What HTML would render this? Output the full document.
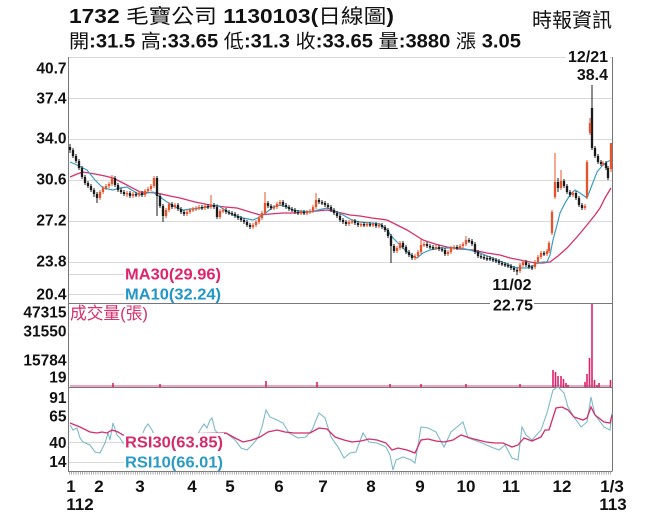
<!DOCTYPE html>
<html>
<head>
<meta charset="utf-8">
<style>
html,body{margin:0;padding:0;background:#fff;}
svg{display:block;}
text{font-family:"Liberation Sans","Noto Sans CJK TC",sans-serif;}
.b{font-weight:bold;}
.ax{font-weight:bold;font-size:15.5px;fill:#111;}
.xl{font-weight:bold;font-size:17px;fill:#111;}
</style>
</head>
<body>
<svg width="656" height="525" viewBox="0 0 656 525" xmlns="http://www.w3.org/2000/svg">
<rect width="656" height="525" fill="#fff"/>

<!-- Header -->
<text x="69" y="23" font-size="20" textLength="325" lengthAdjust="spacingAndGlyphs" fill="#111"><tspan font-weight="bold">1732</tspan><tspan>  毛寶公司 </tspan><tspan font-weight="bold">1130103(</tspan><tspan>日線圖</tspan><tspan font-weight="bold">)</tspan></text>
<text x="69" y="47.5" font-size="19" textLength="452" lengthAdjust="spacingAndGlyphs" fill="#111"><tspan>開</tspan><tspan font-weight="bold">:31.5 </tspan><tspan>高</tspan><tspan font-weight="bold">:33.65 </tspan><tspan>低</tspan><tspan font-weight="bold">:31.3 </tspan><tspan>收</tspan><tspan font-weight="bold">:33.65 </tspan><tspan>量</tspan><tspan font-weight="bold">:3880 </tspan><tspan>漲 </tspan><tspan font-weight="bold">3.05</tspan></text>
<text x="532" y="27" font-size="20" textLength="80" lengthAdjust="spacingAndGlyphs" fill="#111">時報資訊</text>

<!-- gridlines -->
<g stroke="#d9d9d9" stroke-width="1">
<path d="M68 57.5H612M68 98.5H612M68 139.5H612M68 180.5H612M68 221.5H612M68 262.5H612"/>
<path d="M68 274.5H124M68 294.5H124M68 442.5H124M68 462.5H124"/>
</g>

<!-- frame -->
<g stroke="#777" stroke-width="1" fill="none">
<path d="M68.5 57V471"/>
<path d="M612.5 57V471"/>
<path d="M68 303.5H612.5M68 387.5H612.5M68 471.5H612.5"/>
</g>
<path d="M69 473H612" stroke="#999" stroke-width="3" stroke-dasharray="0.8 1.4"/>

<!-- MA lines -->
<polyline fill="none" stroke="#d8306a" stroke-width="1.3" points="70,177 77,174 83,172 95,174 105,176 113,178 125,184 140,192 157,193 170,196 180,198 195,202 210,205 225,207 237,208 250,212 260,215 270,214 283,213 293,213 305,212 317,211 327,210 337,212 350,215 360,216 372,218 387,220 397,225 407,230 415,235 423,240 435,244 447,247 460,249 473,250 487,253 500,255 510,258 520,260 530,262 537,263 543,263 550,262 558,256 567,248 577,237 587,225 595,215 600,208 605,198 611,188"/>
<polyline fill="none" stroke="#3a9ec4" stroke-width="1.2" points="70,162 77,165 87,170 95,180 103,188 113,190 120,188 127,187 135,192 140,195 147,193 153,192 160,197 167,202 175,207 183,210 192,209 200,208 208,207 217,205 225,210 233,215 243,218 253,220 260,217 267,212 273,207 280,205 287,207 293,210 300,211 310,212 318,210 327,208 335,211 343,215 352,220 360,222 370,223 380,224 387,230 393,238 398,243 405,250 412,256 417,258 423,253 430,250 440,248 450,248 460,248 470,250 480,253 490,257 497,260 505,263 513,267 520,268 527,268 533,266 537,263 543,262 547,262 550,255 553,240 557,225 560,213 565,203 570,195 575,190 580,193 587,198 592,185 597,172 602,166 607,162 611,160"/>

<!-- candles -->
<path fill="none" stroke="#1a1a1a" stroke-width="1" d="M70 144V153M73 148V158M76 154V163M79 159V170M82 166V179M85 175V185M88 181V188M91 184V192M94 188V197M97 192V203M115 176V187M118 183V192M121 188V194M124 190V196M130 191V198M136 192V197M142 191V197M157 176V216M160 194V208M163 204V222M172 202V209M178 203V211M181 207V214M184 210V216M202 205V210M208 204V209M214 203V209M217 205V219M226 208V214M229 210V215M232 211V216M235 212V218M238 214V220M241 216V222M244 218V224M247 220V227M250 223V229M268 201V208M271 204V210M283 200V207M286 203V209M289 205V211M292 207V212M295 208V214M298 210V215M304 210V215M319 198V204M322 200V205M325 201V207M328 203V209M331 205V212M334 208V215M337 211V218M340 214V222M343 218V224M346 220V226M355 219V225M358 221V227M364 222V227M370 222V227M376 222V228M382 223V229M385 225V232M388 228V238M391 234V263M394 244V253M403 241V249M406 245V254M409 250V257M412 253V260M427 242V248M430 244V249M433 245V250M439 245V251M442 247V252M445 248V256M457 245V250M469 238V243M472 239V246M475 242V254M478 250V258M481 254V259M484 255V260M487 256V261M490 256V261M493 257V262M496 258V263M499 259V265M502 261V266M505 262V267M508 263V268M511 264V270M514 266V272M517 268V275M526 260V267M529 263V269M532 265V270M544 251V256M558 178V192M564 179V188M567 184V194M570 190V197M576 191V200M579 196V207M582 203V210M592 85V150M595 146V158M598 154V164M601 160V166M606 161V170M608 166V180"/>
<path fill="none" stroke="#1a1a1a" stroke-width="2.3" d="M70 147V150M73 150V156M76 156V161M79 161V168M82 168V177M85 177V183M88 183V186M91 186V190M94 190V194M97 194V198M115 178V185M118 185V190M121 190V192M124 192V194M130 193V196M136 194V195.5M142 193V195M157 178V196M160 196V206M163 206V216M172 204V207M178 205V209M181 209V212M184 212V214M202 207V208.5M208 206V207.5M214 205V207M217 207V217M226 210V212M229 212V213.5M232 213V214.5M235 214V216M238 216V218M241 218V220M244 220V222M247 222V225M250 225V227M268 203V206M271 206V208M283 202V205M286 205V207M289 207V209M292 209V210.5M295 210V212M298 212V213.5M304 212V213.5M319 200V202M322 202V203.5M325 203V205M328 205V207M331 207V210M334 210V213M337 213V216M340 216V220M343 220V222M346 222V224M355 221V223M358 223V225M364 224V225.5M370 224V225.5M376 224V226M382 225V227M385 227V230M388 230V236M391 236V246M394 246V251M403 243V247M406 247V252M409 252V255M412 255V258M427 244V246M430 246V247.5M433 247V248.5M439 247V249M442 249V250.5M445 250V254M457 247V248.5M469 240V241.5M472 241V244M475 244V252M478 252V256M481 256V257.5M484 257V258.5M487 258V259.5M490 258V259.5M493 259V260.5M496 260V261.5M499 261V263M502 263V264.5M505 264V265.5M508 265V266.5M511 266V268M514 268V270M517 270V271.5M526 262V265M529 265V267M532 267V268.5M544 253V254.5M558 182V188M564 181V186M567 186V192M570 192V195M576 193V198M579 198V205M582 205V208M592 108V148M595 148V156M598 156V162M601 162V164M606 163V168M608 168V178"/>
<path fill="none" stroke="#e8532b" stroke-width="1" d="M100 190V200M103 186V194M106 184V190M109 182V188M112 175V186M127 191V197M133 192V198M139 191V197M145 189V197M148 187V193M151 184V191M154 176V188M166 208V218M169 202V212M175 203V209M187 210V216M190 208V214M193 207V212M196 206V211M199 205V210M205 204V210M211 195V209M220 209V219M223 208V213M253 223V229M256 220V227M259 216V224M262 211V220M265 192V215M274 205V210M277 202V209M280 200V206M301 210V215M307 210V215M310 209V214M313 205V213M316 193V209M349 220V226M352 219V224M361 222V227M367 222V227M373 222V227M379 223V228M397 246V253M400 241V250M415 254V260M418 250V258M421 238V254M424 242V247M436 245V250M448 250V256M451 246V254M454 245V250M460 244V250M463 242V248M466 236V246M520 263V273M523 260V267M535 260V269M538 255V264M541 251V259M547 249V256M549 241V253M552 210V235M555 153V199M561 170V190M573 191V197M585 204V210M587 160V199M590 118V135M603 161V166M611 143V172"/>
<path fill="none" stroke="#e8532b" stroke-width="2.3" d="M100 192V198M103 188V192M106 186V188M109 184V186M112 178V184M127 193V194.5M133 194V196M139 193V195M145 191V195M148 189V191M151 186V189M154 178V186M166 210V216M169 204V210M175 205V207M187 212V214M190 210V212M193 209V210.5M196 208V209.5M199 207V208.5M205 206V208M211 205V207M220 211V217M223 210V211.5M253 225V227M256 222V225M259 218V222M262 213V218M265 203V213M274 207V208.5M277 204V207M280 202V204M301 212V213.5M307 212V213.5M310 211V212.5M313 207V211M316 200V207M349 222V224M352 221V222.5M361 224V225.5M367 224V225.5M373 224V225.5M379 225V226.5M397 248V251M400 243V248M415 256V258M418 252V256M421 245V252M424 244V245.5M436 247V248.5M448 252V254M451 248V252M454 247V248.5M460 246V248M463 244V246M466 240V244M520 265V271M523 262V265M535 262V267M538 257V262M541 253V257M547 251V254M549 243V251M552 212V233M555 182V197M561 181V188M573 193V195M585 206V208M587 162V197M590 123V133M603 163V164.5M611 143V169"/>

<!-- price axis labels -->
<g class="ax" text-anchor="end">
<text x="66.5" y="73.5">40.7</text>
<text x="66.5" y="103.5">37.4</text>
<text x="66.5" y="143.5">34.0</text>
<text x="66.5" y="184.5">30.6</text>
<text x="66.5" y="225.5">27.2</text>
<text x="66.5" y="266.5">23.8</text>
<text x="66.5" y="299.5">20.4</text>
</g>

<!-- MA legends -->
<text x="125" y="279.5" class="b" font-size="16" fill="#e0246c" textLength="96" lengthAdjust="spacingAndGlyphs">MA30(29.96)</text>
<text x="125" y="299.5" class="b" font-size="16" fill="#2196c8" textLength="96" lengthAdjust="spacingAndGlyphs">MA10(32.24)</text>

<!-- annotations -->
<rect x="566" y="48" width="44" height="35" fill="#fff"/>
<path d="M592 85V108" stroke="#1a1a1a" stroke-width="1"/>
<text x="608" y="62" class="b" font-size="16" fill="#111" text-anchor="end">12/21</text>
<text x="608" y="80" class="b" font-size="16" fill="#111" text-anchor="end">38.4</text>
<text x="512" y="290" class="b" font-size="16" fill="#111" text-anchor="middle">11/02</text>
<rect x="490" y="298" width="44" height="15" fill="#fff"/>
<text x="533" y="310.5" class="b" font-size="16" fill="#111" text-anchor="end">22.75</text>

<!-- volume -->
<g class="ax" text-anchor="end" font-size="16">
<text x="66.5" y="317.5">47315</text>
<text x="66.5" y="336.5">31550</text>
<text x="66.5" y="365.5">15784</text>
<text x="66.5" y="382.5">19</text>
</g>
<text x="70" y="319" font-size="17" fill="#d6306f" textLength="78" lengthAdjust="spacingAndGlyphs">成交量(張)</text>
<path d="M70 386H611" stroke="#e04a7c" stroke-width="1"/>
<path fill="none" stroke="#e0206a" stroke-width="1.6" d="M113 387V383M160 387V384M266 387V381M317 387V382M390 387V384M421 387V384M466 387V384M520 387V384M553 387V370M555.5 387V372M558 387V376M561 387V376M563.5 387V379M566 387V383M568 387V385M585 387V382M587 387V374M589.5 387V358M592 387V304M594.5 387V380M597 387V385M599 387V383M610.5 387V380"/>

<!-- RSI -->
<g class="ax" text-anchor="end" font-size="16">
<text x="66.5" y="403">91</text>
<text x="66.5" y="421.5">65</text>
<text x="66.5" y="448">40</text>
<text x="66.5" y="467">14</text>
</g>
<polyline fill="none" stroke="#7db9cc" stroke-width="1.1" points="70,425 73,430 77,428 80,438 83,442 90,445 95,452 100,453 105,443 108,433 110,440 113,423 117,435 120,438 123,443 140,440 145,428 148,424 152,430 156,440 195,440 200,430 204,424 207,428 210,420 212,418 215,430 220,436 226,433 235,440 241,448 247,450 252,445 258,438 262,427 266,410 270,417 277,420 283,423 289,433 298,438 306,437 312,430 319,413 325,418 331,437 338,447 344,458 350,453 356,452 363,433 369,442 377,443 386,447 390,455 393,470 396,460 403,457 411,460 415,463 421,427 428,428 436,432 444,447 451,432 457,427 463,422 468,438 474,440 482,443 491,447 499,450 505,445 512,458 518,460 522,427 526,435 532,440 541,430 547,413 553,390 558,387 564,393 568,407 574,417 581,427 587,422 591,397 595,415 604,427 610,430 612,413"/>
<polyline fill="none" stroke="#d42c6a" stroke-width="1.3" points="70,423 80,427 90,432 97,433 102,432 107,433 112,430 118,432 123,435 226,433 235,438 243,442 252,440 260,437 268,432 277,430 285,432 294,433 302,433 310,433 319,428 327,429 335,437 344,440 352,442 361,441 369,439 377,440 386,443 392,450 398,448 407,450 415,453 421,440 428,439 436,441 444,442 453,440 461,435 470,438 478,440 486,442 495,443 503,443 512,447 518,445 524,438 532,441 541,437 545,430 549,430 556,408 562,407 568,410 574,417 583,420 587,418 591,407 595,415 604,422 610,423 612,415"/>
<rect x="124" y="433" width="100" height="37" fill="#fff"/>
<text x="125" y="447.5" class="b" font-size="16" fill="#d42c6a" textLength="98" lengthAdjust="spacingAndGlyphs">RSI30(63.85)</text>
<text x="125" y="467.5" class="b" font-size="16" fill="#2a9bc4" textLength="98" lengthAdjust="spacingAndGlyphs">RSI10(66.01)</text>

<!-- x axis labels -->
<g class="xl" text-anchor="middle">
<text x="71" y="492">1</text>
<text x="99" y="492">2</text>
<text x="140" y="492">3</text>
<text x="192" y="492">4</text>
<text x="230" y="492">5</text>
<text x="279" y="492">6</text>
<text x="323" y="492">7</text>
<text x="371" y="492">8</text>
<text x="420" y="492">9</text>
<text x="466" y="492">10</text>
<text x="511" y="492">11</text>
<text x="562" y="492">12</text>
<text x="612" y="492">1/3</text>
<text x="80" y="510">112</text>
<text x="613" y="510">113</text>
</g>
</svg>
</body>
</html>
